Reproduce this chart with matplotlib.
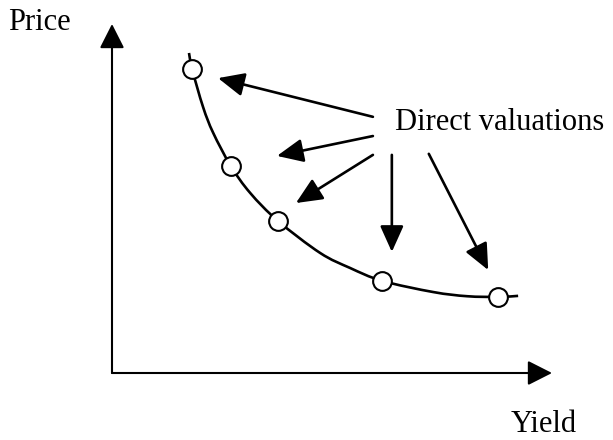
import matplotlib
matplotlib.use("Agg")
import matplotlib.pyplot as plt
from matplotlib.path import Path
from matplotlib.patches import PathPatch

plt.rcParams['font.family'] = ['Liberation Serif', 'DejaVu Serif']

# direct valuations (yield, price), arbitrary units
val_yield = [1.82, 2.70, 3.77, 6.14, 8.77]
val_price = [8.71, 5.93, 4.36, 2.64, 2.18]

# price/yield curve
curve_yield = [1.75, 1.82, 2.07, 2.30, 2.70, 3.14, 3.77, 4.73, 5.41, 6.14, 7.30, 8.07, 8.77, 9.23]
curve_price = [9.17, 8.71, 7.62, 6.88, 5.93, 5.16, 4.36, 3.44, 3.01, 2.64, 2.32, 2.20, 2.18, 2.21]

# annotation arrows: from label towards points
arrow_from_x = [5.93, 5.93, 5.93, 6.36, 7.20]
arrow_from_y = [7.34, 6.79, 6.25, 6.25, 6.28]
arrow_to_x = [2.41, 3.75, 4.18, 6.36, 8.55]
arrow_to_y = [8.45, 6.22, 4.87, 3.47, 2.95]

label_text = "Direct valuations"
x_label = "Yield"
y_label = "Price"


def smooth_path(xs, ys):
    # cubic bezier segments through the read points (catmull-rom style handles)
    pts = list(zip(xs, ys))
    verts = [pts[0]]
    codes = [Path.MOVETO]
    n = len(pts)
    for i in range(n - 1):
        p0 = pts[max(i - 1, 0)]
        p1 = pts[i]
        p2 = pts[i + 1]
        p3 = pts[min(i + 2, n - 1)]
        c1 = (p1[0] + (p2[0] - p0[0]) / 6, p1[1] + (p2[1] - p0[1]) / 6)
        c2 = (p2[0] - (p3[0] - p1[0]) / 6, p2[1] - (p3[1] - p1[1]) / 6)
        verts += [c1, c2, p2]
        codes += [Path.CURVE4] * 3
    return Path(verts, codes)


fig = plt.figure(figsize=(6.13, 4.40), dpi=100)
ax = fig.add_axes([112 / 613, 67 / 440, 440 / 613, 349 / 440])
ax.set_xlim(0, 10)
ax.set_ylim(0, 10)
ax.axis('off')

# axes with arrow heads
axis_style = dict(arrowstyle='-|>,head_length=0.75,head_width=0.38', mutation_scale=20,
                  lw=1.5, color='black', shrinkA=0, shrinkB=0)
ax.annotate('', xy=(10, 0), xytext=(0, 0), arrowprops=axis_style, annotation_clip=False)
ax.annotate('', xy=(0, 10), xytext=(0, 0), arrowprops=axis_style, annotation_clip=False)

ax.add_patch(PathPatch(smooth_path(curve_yield, curve_price), fill=False,
                       lw=1.9, edgecolor='black', clip_on=False, zorder=2))
ax.plot(val_yield, val_price, 'o', ms=13.5, mfc='white', mec='black', mew=1.5,
        clip_on=False, zorder=3)

arr_style = dict(arrowstyle='-|>,head_length=0.8,head_width=0.36', mutation_scale=20,
                 lw=1.9, color='black', shrinkA=0, shrinkB=0)
for x0, y0, x1, y1 in zip(arrow_from_x, arrow_from_y, arrow_to_x, arrow_to_y):
    ax.annotate('', xy=(x1, y1), xytext=(x0, y0), arrowprops=arr_style,
                annotation_clip=False)

ax.text(6.43, 6.96, label_text, fontsize=22, ha='left', va='baseline')
ax.text(-2.36, 9.83, y_label, fontsize=22, ha='left', va='baseline', clip_on=False)
ax.text(9.05, -1.70, x_label, fontsize=22, ha='left', va='baseline', clip_on=False)

fig.savefig('out.png', dpi=100)
